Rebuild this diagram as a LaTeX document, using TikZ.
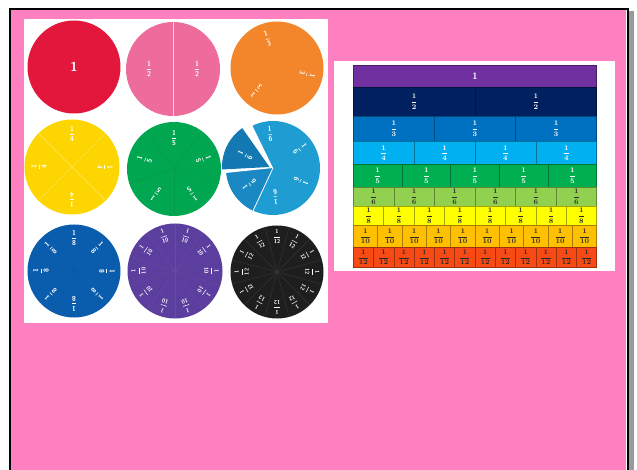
\documentclass[tikz,border=0pt]{standalone}
\usepackage{amsmath}
\definecolor{pinkbg}{HTML}{FF80C0}
\definecolor{shadowgray}{HTML}{9A9A9A}
\definecolor{redc}{HTML}{E2173B}
\definecolor{pinkc}{HTML}{EE6C9C}
\definecolor{orangec}{HTML}{F3862B}
\definecolor{yellowc}{HTML}{FDD500}
\definecolor{greenc}{HTML}{00A650}
\definecolor{lbc}{HTML}{1F9DD3}
\definecolor{lbd}{HTML}{1A89C3}
\definecolor{lbs}{HTML}{1479B2}
\definecolor{bluec}{HTML}{0A5DAD}
\definecolor{purplec}{HTML}{5C3E9E}
\definecolor{blackc}{HTML}{1F1E1F}
\definecolor{bar1}{HTML}{7030A0}
\definecolor{bar2}{HTML}{002060}
\definecolor{bar3}{HTML}{0070C0}
\definecolor{bar4}{HTML}{00B0F0}
\definecolor{bar5}{HTML}{00B050}
\definecolor{bar6}{HTML}{92D050}
\definecolor{bar7}{HTML}{FFFF00}
\definecolor{bar8}{HTML}{FFC000}
\definecolor{bar9}{HTML}{F84A14}
\definecolor{bartxt}{HTML}{2A2A2A}
\newcommand\cfr[1]{$\genfrac{}{}{0.5pt}{0}{\mbox{\sffamily\bfseries 1}}{\mbox{\sffamily\bfseries #1}}$}
\newcommand\bfr[1]{$\genfrac{}{}{0.45pt}{0}{\mathbf{1}}{\mathbf{#1}}$}
\newcommand\circlabels[6]{%
  \foreach \k in {1,...,#2}{%
    \pgfmathsetmacro\ang{#3+360/#2*(\k-1)}%
    \pgfmathsetmacro\rot{\ang-90}%
    \node[clab, font=\fontsize{#6}{#6}\selectfont, rotate=\rot] (#1l\k) at ([shift={(\ang:#4pt)}]#1) {\cfr{#5}};%
  }}
\newcommand\circlines[4]{%
  \foreach \k in {1,...,#2}{%
    \pgfmathsetmacro\ang{#3+360/#2*(\k-1)}%
    \draw[#4, line width=0.35pt] (#1) -- ++(\ang:46.5pt);%
  }}
\begin{document}
\begin{tikzpicture}[x=1pt,y=1pt,
  clab/.style={text=white, inner sep=0pt},
  barcell/.style={line width=0.5pt},
  panel/.style={fill=white}]
\useasboundingbox (0,0) rectangle (637,-470);
\fill[white] (0,0) rectangle (637,-470);
% frame
\fill[pinkbg] (11,-10) rectangle (625.5,-470);
\fill[shadowgray] (629.3,-11) rectangle (633.5,-470);
\draw[line width=2pt] (10,-472) -- (10,-9) -- (628,-9) -- (628,-472);
% panels
\fill[panel] (24,-19) rectangle (328,-322.5);
\fill[panel] (334,-61) rectangle (615,-271);
% circle centres
\coordinate (c1) at (74,-67);
\coordinate (c2) at (173,-69);
\coordinate (c3) at (277,-68);
\coordinate (c4) at (72,-167);
\coordinate (c5) at (174,-169);
\coordinate (c6) at (273,-168);
\coordinate (c7) at (74,-271);
\coordinate (c8) at (175,-271);
\coordinate (c9) at (277,-272);
% 1
\fill[redc] (c1) circle (46.5pt);
\node[text=white, font=\sffamily\bfseries\fontsize{13}{13}\selectfont, inner sep=0pt] (one) at (c1) {1};
% halves
\fill[pinkc] (c2) circle (47pt);
\draw[white!70!pinkc, line width=1pt] (c2) ++(0,47) -- ++(0,-94);
\node[clab, font=\fontsize{7}{7}\selectfont] (c2l1) at ([shift={(-24pt,0pt)}]c2) {\cfr{2}};
\node[clab, font=\fontsize{7}{7}\selectfont] (c2l2) at ([shift={(24pt,0pt)}]c2) {\cfr{2}};
% thirds
\fill[orangec] (c3) circle (46.5pt);
\circlabels{c3}{3}{108}{31}{3}{7}
% quarters
\fill[yellowc] (c4) circle (47.5pt);
\circlines{c4}{4}{45}{white!55!yellowc, line width=0.8pt}
\circlabels{c4}{4}{90}{33}{4}{7}
% fifths
\fill[greenc] (c5) circle (47pt);
\circlines{c5}{5}{54}{greenc!93!black}
\circlabels{c5}{5}{90}{31}{5}{7}
% sixths
\fill[lbc] (c6) circle (47pt);
\fill[lbd] (c6) -- ++(185:47pt) arc[start angle=185, end angle=245, radius=47pt] -- cycle;
\draw[white, line width=0.8pt] (c6) -- ++(245:47pt);
\fill[white] (c6) -- ++(116:48pt) arc[start angle=116, end angle=186, radius=48pt] -- cycle;
\coordinate (c6s) at ([shift={(-3.5pt,1pt)}]c6);
\fill[lbs] (c6s) -- ++(125:47.5pt) arc[start angle=125, end angle=183, radius=47.5pt] -- cycle;
\foreach \ang/\rr [count=\k] in {95/34, 35/33, -25/31, -85/29, 215/29}{%
  \pgfmathsetmacro\rot{\ang-90}%
  \node[clab, font=\fontsize{7}{7}\selectfont, rotate=\rot] (c6l\k) at ([shift={(\ang:\rr pt)}]c6) {\cfr{6}};}
\node[clab, font=\fontsize{7}{7}\selectfont, rotate=64] (c6l6) at ([shift={(154:27pt)}]c6s) {\cfr{6}};
% eighths
\fill[bluec] (c7) circle (46.5pt);
\circlines{c7}{8}{22.5}{bluec!95!black}
\circlabels{c7}{8}{90}{33}{8}{7}
% tenths
\fill[purplec] (c8) circle (47.5pt);
\circlines{c8}{10}{18}{purplec!93!white}
\circlabels{c8}{10}{0}{36.5}{10}{5.8}
% twelfths
\fill[blackc] (c9) circle (46.5pt);
\circlines{c9}{12}{15}{blackc!88!white}
\circlabels{c9}{12}{0}{35.5}{12}{5.7}
% fraction bars
\foreach \n/\ya/\yb/\fc/\tc in {1/65/87.7/bar1/white, 2/87.7/116/bar2/white, 3/116/141.7/bar3/white, 4/141.7/164.3/bar4/white, 5/164.3/187/bar5/white, 6/187/206.7/bar6/bartxt, 8/206.7/225/bar7/bartxt, 10/225/247.7/bar8/bartxt, 12/247.7/267/bar9/bartxt}{%
  \pgfmathsetmacro\w{243.4/\n}%
  \foreach \k in {1,...,\n}{%
    \pgfmathsetmacro\xa{353.3+(\k-1)*\w}%
    \pgfmathsetmacro\xb{\xa+\w}%
    \pgfmathsetmacro\xm{(\xa+\xb)/2}%
    \pgfmathsetmacro\ym{-(\ya+\yb)/2}%
    \draw[barcell, draw=\fc!65!black, fill=\fc] (\xa,-\ya) rectangle (\xb,-\yb);
    \ifnum\n=1
      \node[text=\tc, inner sep=0pt, font=\bfseries\fontsize{10}{10}\selectfont] (r\n-\k) at (\xm,\ym) {1};
    \else
      \node[text=\tc, inner sep=0pt, font=\fontsize{7.2}{7.2}\selectfont] (r\n-\k) at (\xm,\ym) {\bfr{\n}};
    \fi
  }}
\end{tikzpicture}
\end{document}
